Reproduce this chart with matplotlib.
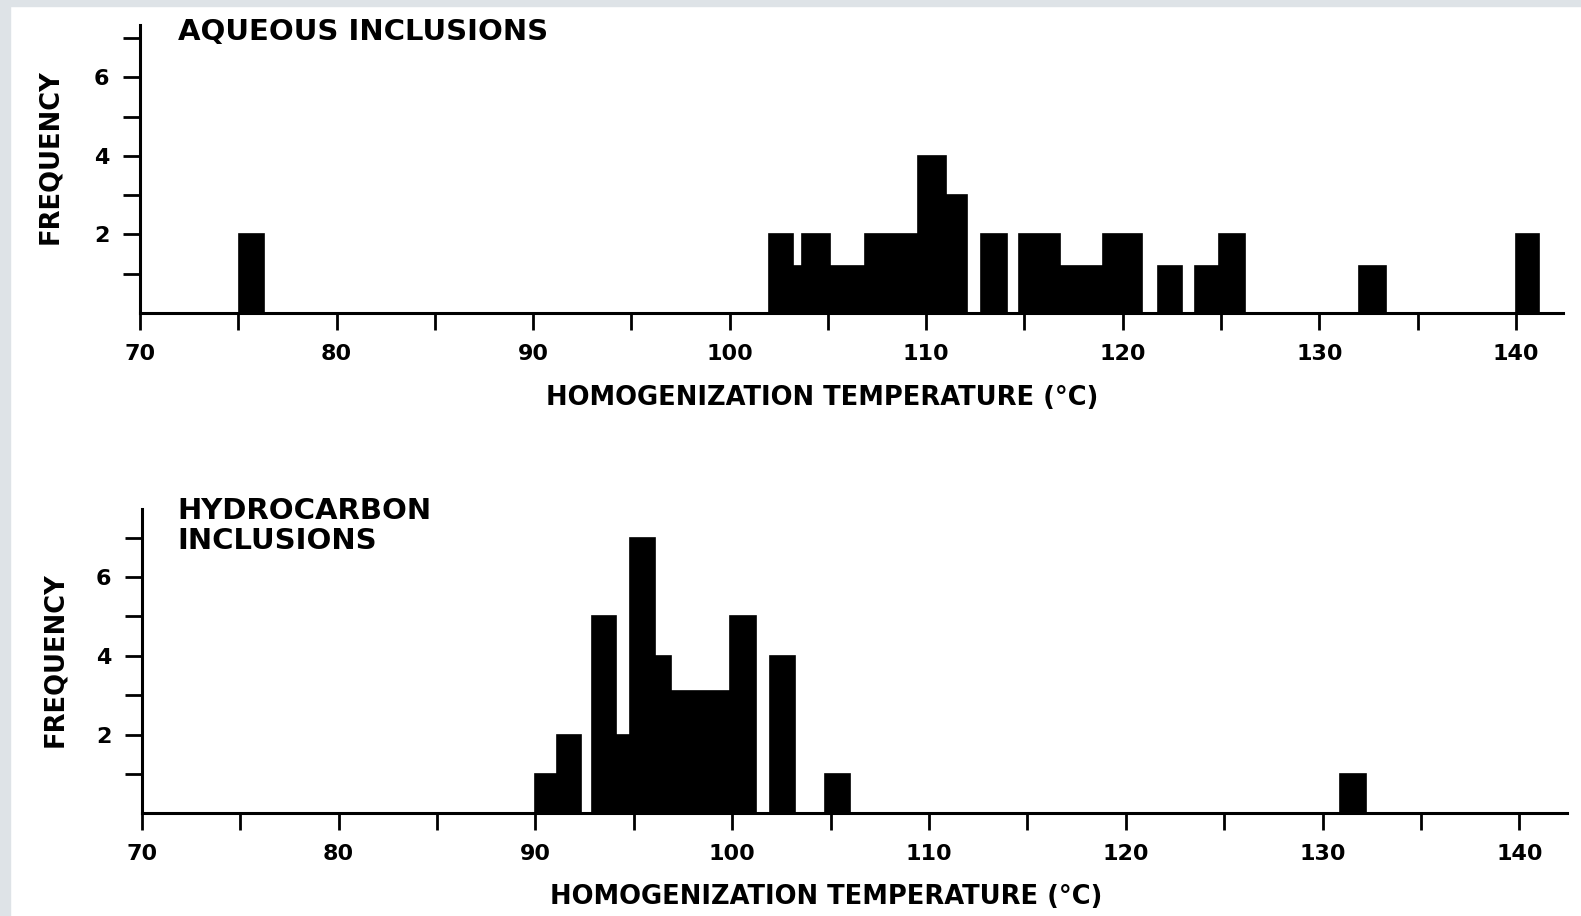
import numpy as np
import matplotlib
matplotlib.use("Agg")
import matplotlib.pyplot as plt
from matplotlib.patches import Rectangle
from matplotlib.ticker import MultipleLocator

# Aqueous inclusions: bar segments (left edge, right edge, frequency)
aq_left = [75.05, 102.0, 103.2, 103.7, 105.1, 106.9, 109.6, 111.0, 112.8,
           114.7, 116.8, 119.0, 121.8, 123.7, 124.9, 132.0, 140.0]
aq_right = [76.3, 103.2, 103.7, 105.1, 106.9, 109.6, 111.0, 112.1, 114.1,
            116.8, 119.0, 121.0, 123.0, 124.9, 126.2, 133.4, 141.2]
aq_freq = [2, 2, 1.2, 2, 1.2, 2, 4, 3, 2, 2, 1.2, 2, 1.2, 1.2, 2, 1.2, 2]

# Hydrocarbon inclusions
hc_left = [90.0, 91.1, 92.9, 94.1, 94.8, 96.1, 96.9, 99.9, 101.9, 104.7, 130.9]
hc_right = [91.1, 92.3, 94.1, 94.8, 96.1, 96.9, 99.9, 101.2, 103.2, 106.0, 132.2]
hc_freq = [1, 2, 5, 2, 7, 4, 3.1, 5, 4, 1, 1]

xlabel = "HOMOGENIZATION TEMPERATURE (°C)"
ylabel = "FREQUENCY"

plt.rcParams['font.family'] = 'DejaVu Sans'
plt.rcParams['font.weight'] = 'bold'

W, H = 1581, 916
fig = plt.figure(figsize=(W / 100, H / 100), dpi=100)
fig.patch.set_facecolor("white")

# scan border
border = "#dee3e7"
fig.patches.append(Rectangle((0, 0), 10 / W, 1, transform=fig.transFigure,
                             color=border, zorder=0))
fig.patches.append(Rectangle((0, 1 - 6 / H), 1, 6 / H, transform=fig.transFigure,
                             color=border, zorder=0))

ax1 = fig.add_axes([140 / W, 1 - 313 / H, 1423 / W, 288 / H])
ax2 = fig.add_axes([141.7 / W, 1 - 813.3 / H, 1425 / W, 304 / H])


def style(ax, ytop):
    ax.set_xlim(70, 142.4)
    ax.set_ylim(0, ytop)
    ax.spines['top'].set_visible(False)
    ax.spines['right'].set_visible(False)
    ax.spines['left'].set_linewidth(2.2)
    ax.spines['bottom'].set_linewidth(2.2)
    ax.xaxis.set_major_locator(MultipleLocator(10))
    ax.xaxis.set_minor_locator(MultipleLocator(5))
    ax.set_yticks([2, 4, 6])
    ax.set_yticks([1, 3, 5, 7], minor=True)
    ax.tick_params(which='both', direction='out', length=12, width=2, color='black')
    ax.tick_params(axis='x', labelsize=16, pad=10)
    ax.tick_params(axis='y', labelsize=16, pad=10)
    for lab in ax.get_xticklabels() + ax.get_yticklabels():
        lab.set_fontweight('bold')
    ax.set_facecolor('white')


style(ax1, 7.33)
style(ax2, 7.72)

ax1.bar(aq_left, aq_freq, width=np.array(aq_right) - np.array(aq_left),
        align='edge', color='black', edgecolor='black', linewidth=1.2)
ax2.bar(hc_left, hc_freq, width=np.array(hc_right) - np.array(hc_left),
        align='edge', color='black', edgecolor='black', linewidth=1.2)

ax1.text(71.93, 7.16, "AQUEOUS INCLUSIONS", fontsize=21, fontweight='bold',
         va='center', ha='left')
ax2.text(71.8, 7.3, "HYDROCARBON\nINCLUSIONS", fontsize=21, fontweight='bold',
         va='center', ha='left', linespacing=1.1)

fig.text(50 / W, 1 - 157 / H, ylabel, rotation=90, fontsize=18.5,
         fontweight='bold', ha='center', va='center')
fig.text(55 / W, 1 - 660 / H, ylabel, rotation=90, fontsize=18.5,
         fontweight='bold', ha='center', va='center')
fig.text(822 / W, 1 - 398 / H, xlabel, fontsize=18.5, fontweight='bold',
         ha='center', va='center')
fig.text(826 / W, 1 - 897 / H, xlabel, fontsize=18.5, fontweight='bold',
         ha='center', va='center')

fig.savefig("out.png", dpi=100, facecolor=fig.get_facecolor())
